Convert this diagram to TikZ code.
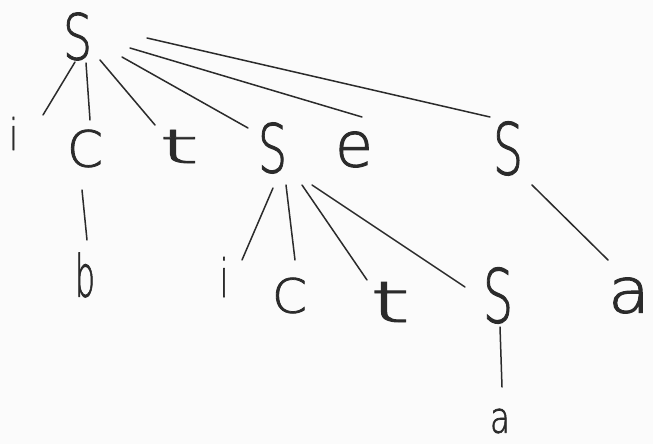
\documentclass[tikz,border=0pt]{standalone}
\usepackage{fontspec}
\usepackage{graphicx}
\newfontfamily\handfont[AutoFakeBold=1.6]{DejaVu Sans ExtraLight}
\newcommand{\glyphbox}[3]{\resizebox{#1pt}{#2pt}{\handfont\bfseries #3}}
\definecolor{ink}{HTML}{2B2B2B}
\definecolor{paper}{HTML}{FBFBFB}
\tikzset{
  sym/.style={inner sep=0pt, outer sep=0pt, text=ink},
  branch/.style={draw=ink, line width=1.5pt, line cap=round}
}
\begin{document}
\begin{tikzpicture}[x=1pt, y=-1pt]
\fill[paper] (0,0) rectangle (653,444);
\useasboundingbox (0,0) rectangle (653,444);
% nodes
\node[sym] (root) at (77.5,36.5) {\glyphbox{29}{47}{S}};
\node[sym] (i1) at (13.5,133.5) {\glyphbox{8}{33}{i}};
\node[sym] (c1) at (85,148.5) {\glyphbox{36}{37}{C}};
\node[sym] (t1) at (179,146.5) {\glyphbox{40}{33}{t}};
\node[sym] (s2) at (272.5,148) {\glyphbox{29}{50}{S}};
\node[sym] (e1) at (354,149.5) {\glyphbox{38}{35}{e}};
\node[sym] (s3) at (508,148.5) {\glyphbox{30}{53}{S}};
\node[sym] (b1) at (85,275) {\glyphbox{20}{44}{b}};
\node[sym] (i2) at (224,277) {\glyphbox{8}{40}{i}};
\node[sym] (c2) at (289.5,295.5) {\glyphbox{35}{35}{C}};
\node[sym] (t2) at (390,302) {\glyphbox{40}{40}{t}};
\node[sym] (s4) at (498,295.5) {\glyphbox{30}{55}{S}};
\node[sym] (a1) at (629,295.5) {\glyphbox{42}{35}{a}};
\node[sym] (a2) at (500,421) {\glyphbox{20}{24}{a}};
% connectors
\draw[branch] ([shift={(-2.5,25.5)}]root.center) -- ([shift={(29.5,-18.5)}]i1.center);
\draw[branch] ([shift={(8.5,26.5)}]root.center) -- ([shift={(5,-28.5)}]c1.center);
\draw[branch] ([shift={(22.5,23.5)}]root.center) -- ([shift={(-24,-21.5)}]t1.center);
\draw[branch] ([shift={(44.5,20.5)}]root.center) -- ([shift={(-24.5,-20)}]s2.center);
\draw[branch] ([shift={(52.5,11.5)}]root.center) -- ([shift={(8,-32.5)}]e1.center);
\draw[branch] ([shift={(69.5,1.5)}]root.center) -- ([shift={(-18,-31.5)}]s3.center);
\draw[branch] ([shift={(-3,41.5)}]c1.center) -- ([shift={(2,-35)}]b1.center);
\draw[branch] ([shift={(24,36.5)}]s3.center) -- ([shift={(-21,-35.5)}]a1.center);
\draw[branch] ([shift={(0.5,40)}]s2.center) -- ([shift={(18,-17)}]i2.center);
\draw[branch] ([shift={(13.5,37)}]s2.center) -- ([shift={(5.5,-35.5)}]c2.center);
\draw[branch] ([shift={(29.5,37)}]s2.center) -- ([shift={(-23,-22)}]t2.center);
\draw[branch] ([shift={(39.5,37)}]s2.center) -- ([shift={(-33,-8.5)}]s4.center);
\draw[branch] ([shift={(2,31.5)}]s4.center) -- ([shift={(2,-34)}]a2.center);
\end{tikzpicture}
\end{document}
